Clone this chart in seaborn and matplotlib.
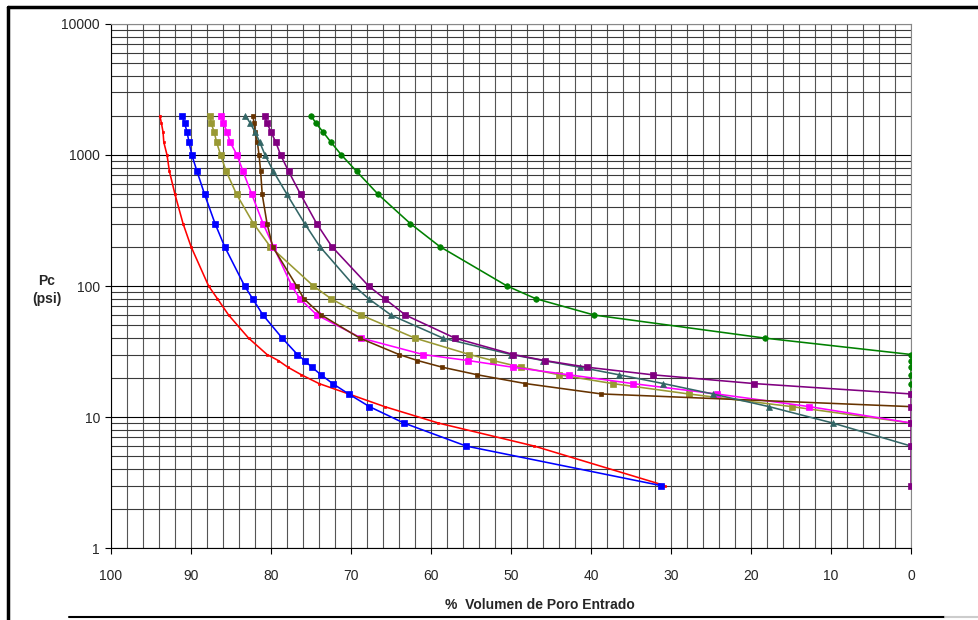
import numpy as np
import pandas as pd
import seaborn as sns
import matplotlib.pyplot as plt
from matplotlib.lines import Line2D
from matplotlib.ticker import FixedLocator, MultipleLocator, LogLocator, NullFormatter

# presion capilar (psi), comun a todas las muestras
pc = [2000, 1750, 1500, 1250, 1000, 750, 500, 300, 200, 100, 80, 60,
      40, 30, 27, 24, 21, 18, 15, 12, 9, 6, 3]

# % volumen de poro entrado por muestra
rojo_x = [93.9, 93.7, 93.5, 93.4, 93.0, 92.7, 92.0, 91.0, 90.0, 87.8, 86.7, 85.3,
          82.8, 80.5, 79.1, 77.9, 76.2, 74.0, 70.3, 65.8, 59.1, 47.1, 30.8]
azul_x = [91.1, 90.8, 90.5, 90.25, 89.9, 89.25, 88.3, 87.0, 85.8, 83.3, 82.3, 81.0,
          78.6, 76.7, 75.8, 74.9, 73.75, 72.3, 70.3, 67.7, 63.4, 55.6, 31.3]
oliva_x = [87.6, 87.5, 87.1, 86.8, 86.3, 85.6, 84.3, 82.2, 80.1, 74.7, 72.5, 68.75,
           62.0, 55.2, 52.3, 48.75, 43.96, 37.3, 27.8, 14.9, 0]
magenta_x = [86.25, 85.96, 85.5, 85.1, 84.25, 83.5, 82.4, 81.0, 79.7, 77.4, 76.4, 74.25,
             68.7, 61.0, 55.4, 49.8, 42.75, 34.8, 24.3, 12.7, 0]
marron_x = [82.3, 82.1, 82.0, 81.7, 81.5, 81.3, 81.1, 80.5, 79.8, 76.8, 75.9, 73.7,
            68.9, 64.0, 61.7, 58.6, 54.2, 48.2, 38.7, 0]
verdeazul_x = [83.2, 82.6, 82.0, 81.4, 80.75, 79.7, 78.0, 75.8, 73.9, 69.6, 67.8, 65.0,
               58.5, 50.0, 46.0, 41.4, 36.5, 30.96, 24.8, 17.75, 9.8, 0]
verde_x = [75.0, 74.4, 73.5, 72.5, 71.2, 69.3, 66.6, 62.6, 58.9, 50.5, 46.9, 39.6,
           18.25, 0, 0, 0, 0, 0, 0]
morado_x = [80.8, 80.5, 80.0, 79.4, 78.8, 77.8, 76.3, 74.3, 72.4, 67.8, 65.8, 63.2,
            57.0, 49.7, 45.8, 40.5, 32.3, 19.6, 0, 0, 0, 0, 0]

x_ticks = [100, 90, 80, 70, 60, 50, 40, 30, 20, 10, 0]
y_ticks = [1, 10, 100, 1000, 10000]

sns.set_style('white')
plt.rcParams['font.family'] = ['Liberation Sans', 'DejaVu Sans']

fig = plt.figure(figsize=(9.79, 6.2), dpi=100)
ax = fig.add_axes([0.1134, 0.1161, 0.8172, 0.8452])

series = [
    (rojo_x, '#FF0000', 's', 1.8),
    (azul_x, '#0000FF', 's', 4.0),
    (oliva_x, '#999933', 's', 4.0),
    (magenta_x, '#FF00FF', 's', 4.0),
    (marron_x, '#663300', 's', 2.8),
    (verdeazul_x, '#336666', '^', 4.0),
    (verde_x, '#008000', 'o', 4.0),
    (morado_x, '#800080', 's', 4.0),
]
for xs, color, mk, ms in series:
    df = pd.DataFrame({'vol': xs, 'pc': pc[:len(xs)]})
    sns.lineplot(data=df, x='vol', y='pc', sort=False, estimator=None, ax=ax,
                 color=color, lw=1.15, marker=mk, markersize=ms, markeredgewidth=0.5,
                 markeredgecolor=color, markerfacecolor=color, zorder=3)

ax.set_yscale('log')
ax.set_xlim(100, 0)
ax.set_ylim(1, 10000)

ax.xaxis.set_major_locator(FixedLocator(x_ticks))
ax.set_xticklabels([str(t) for t in x_ticks])
ax.xaxis.set_minor_locator(MultipleLocator(2))
ax.yaxis.set_major_locator(FixedLocator(y_ticks))
ax.set_yticklabels([str(t) for t in y_ticks])
ax.yaxis.set_minor_locator(LogLocator(base=10, subs=range(2, 10)))
ax.yaxis.set_minor_formatter(NullFormatter())

ax.tick_params(axis='both', which='major', direction='out', length=4, width=0.8,
               color='black', labelsize=10, bottom=True, left=True)
ax.tick_params(axis='x', which='major', pad=11)
ax.tick_params(axis='y', which='major', pad=4)
ax.tick_params(which='minor', length=0)

ax.xaxis.grid(True, which='both', color='#555555', lw=0.8)
ax.yaxis.grid(True, which='major', color='#000000', lw=0.8)
ax.yaxis.grid(True, which='minor', color='#3a3a3a', lw=0.8)
ax.set_axisbelow(True)

for side in ['left', 'bottom']:
    ax.spines[side].set_color('#000000')
    ax.spines[side].set_linewidth(0.8)
for side in ['top', 'right']:
    ax.spines[side].set_color('#888888')
    ax.spines[side].set_linewidth(0.8)

ax.set_xlabel('%  Volumen de Poro Entrado', fontsize=10, fontweight='bold', va='center')
ax.xaxis.set_label_coords(0.536, -0.109)
ax.set_ylabel('')
fig.text(47 / 979, 1 - 290 / 620, 'Pc\n(psi)', ha='center', va='center',
         fontsize=10, fontweight='bold', linespacing=1.3)

# marco del grafico
fig.add_artist(Line2D([8 / 979, 1], [1 - 7 / 620, 1 - 7 / 620], transform=fig.transFigure,
                      color='black', lw=2.5))
fig.add_artist(Line2D([8 / 979, 8 / 979], [0, 1 - 7 / 620], transform=fig.transFigure,
                      color='black', lw=2.5))
fig.add_artist(Line2D([69 / 979, 945 / 979], [3 / 620, 3 / 620], transform=fig.transFigure,
                      color='black', lw=1.5))
fig.add_artist(Line2D([945 / 979, 1], [3 / 620, 3 / 620], transform=fig.transFigure,
                      color='#cccccc', lw=1.5))

fig.savefig('out.png', dpi=100)
